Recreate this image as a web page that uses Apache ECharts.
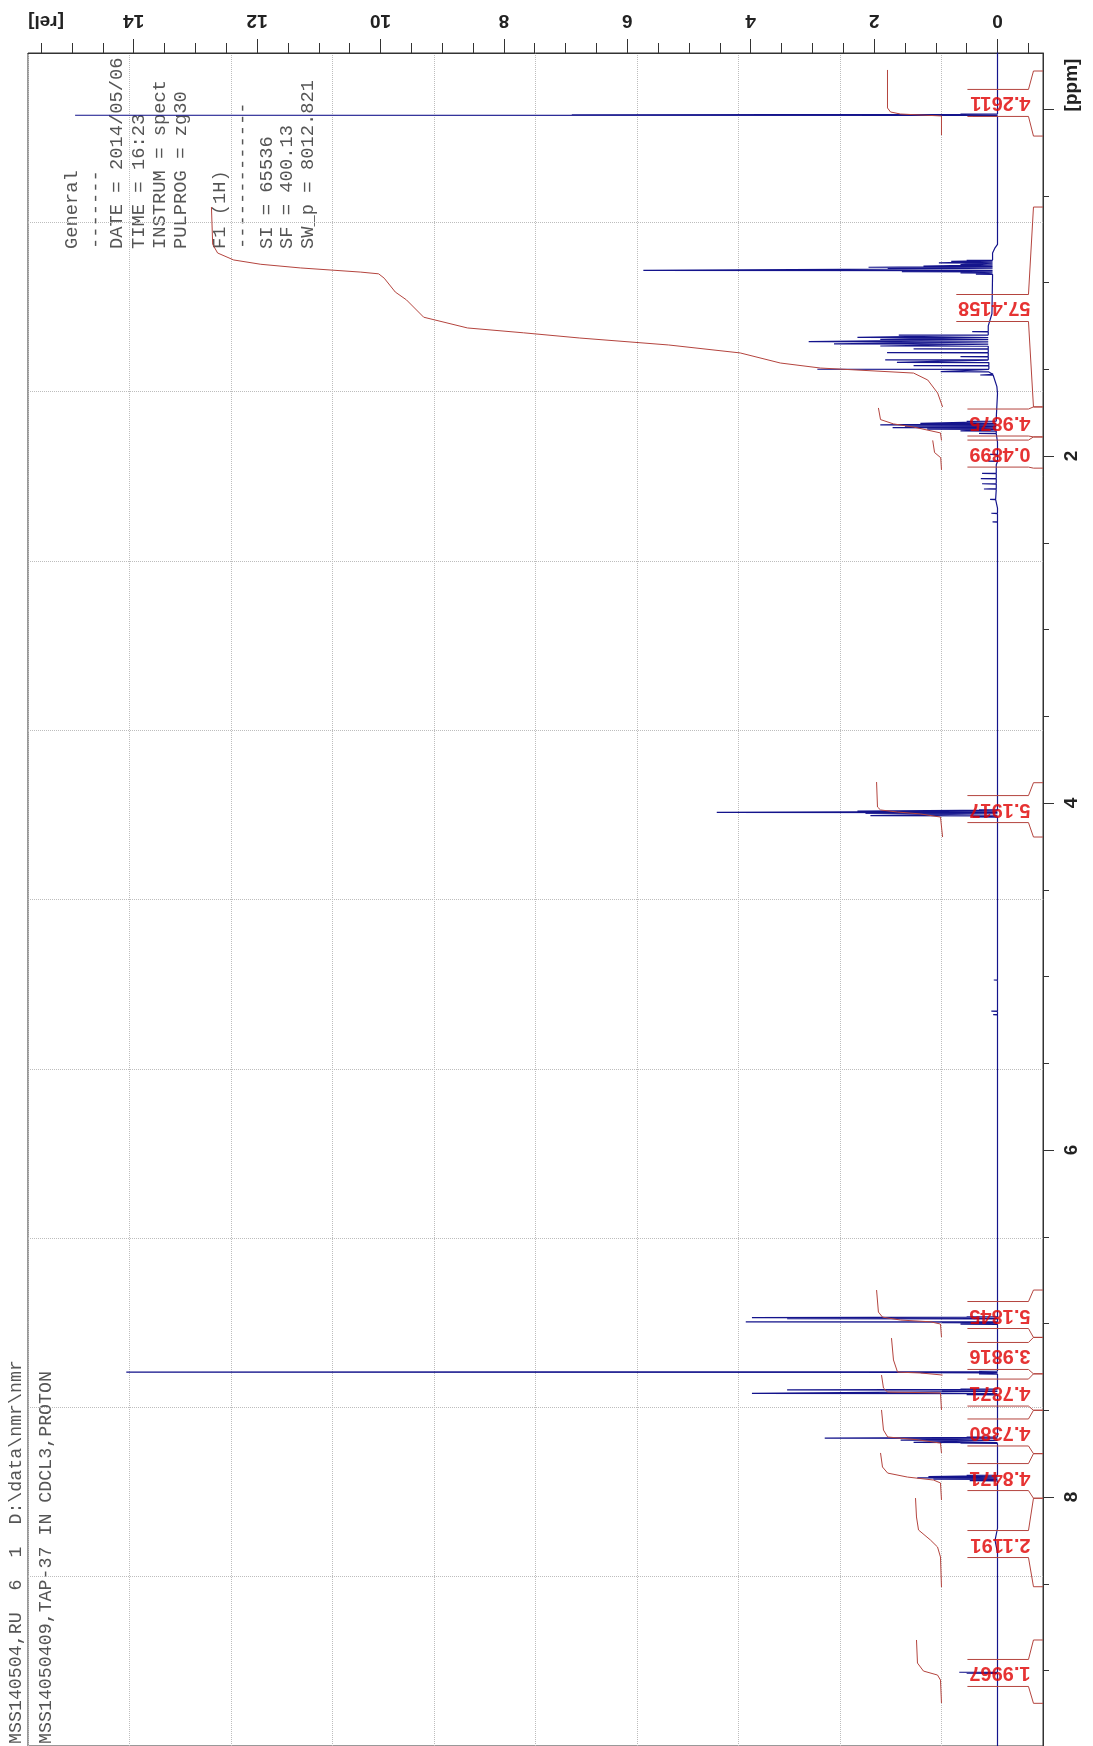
<!DOCTYPE html>
<html><head><meta charset="utf-8">
<script src="https://cdn.jsdelivr.net/npm/echarts@6/dist/echarts.min.js"></script>
<style>html,body{margin:0;padding:0;background:#fff}#c{width:1093px;height:1746px}</style>
</head><body><div id="c"></div>
<script>
// ---------------- DATA ----------------
// intensity axis [rel] (horizontal, top)
const relTicks = [0, 2, 4, 6, 8, 10, 12, 14];
const relMinorTicks = [-0.5, 0.5, 1, 1.5, 2.5, 3, 3.5, 4.5, 5, 5.5, 6.5, 7, 7.5, 8.5, 9, 9.5, 10.5, 11, 11.5, 12.5, 13, 13.5, 14.5, 15, 15.5];
// chemical shift axis [ppm] (vertical, right)
const ppmTicks = [0, 2, 4, 6, 8];
const ppmTickLabels = [2, 4, 6, 8];
const ppmMinorTicks = [0.5, 1, 1.5, 2.5, 3, 3.5, 4.5, 5, 5.5, 6.5, 7, 7.5, 8.5, 9];

// spectrum baseline points [ppm, rel]
const baselinePts = [[-0.33, 0], [0.78, 0], [0.80, 0.04], [0.83, 0.08], [0.96, 0.11], [1.18, 0.09], [1.25, 0.15], [1.45, 0.14], [1.53, 0.07], [1.60, 0.01], [1.64, 0], [1.78, 0.02], [1.88, 0.02], [1.92, 0], [2.05, 0.02], [2.20, 0.03], [2.30, 0], [8.18, 0], [8.25, 0.04], [8.32, 0], [9.44, 0]];
// spectrum peaks [ppm, rel]
const peaks = [
  [0.030, 0.6], [0.033, 6.9], [0.036, 14.95], [0.040, 0.4],
  [0.872, 0.5], [0.878, 0.75], [0.887, 0.95], [0.897, 0.6], [0.905, 1.2], [0.912, 2.09], [0.918, 1.78], [0.930, 5.74], [0.937, 1.55], [0.945, 0.6], [0.952, 0.35],
  [1.283, 0.41], [1.303, 1.6], [1.316, 2.27], [1.328, 1.9], [1.341, 3.06], [1.354, 2.65], [1.366, 1.9], [1.383, 1.36], [1.404, 1.79], [1.427, 0.6], [1.446, 1.82], [1.460, 1.63], [1.479, 1.36], [1.500, 2.92], [1.514, 0.92], [1.533, 0.28],
  [1.800, 0.5], [1.812, 1.25], [1.820, 1.9], [1.828, 1.5], [1.836, 1.7], [1.845, 1.14], [1.855, 0.6], [1.870, 0.3],
  [1.990, 0.12], [2.030, 0.15], [2.100, 0.25], [2.130, 0.27], [2.160, 0.25], [2.190, 0.22], [2.250, 0.12], [2.330, 0.1], [2.380, 0.08],
  [4.040, 0.3], [4.046, 2.27], [4.054, 4.55], [4.060, 2.14], [4.073, 2.06], [4.080, 0.4],
  [5.020, 0.06], [5.200, 0.1], [5.220, 0.07],
  [6.962, 0.5], [6.966, 3.98], [6.972, 3.41], [6.990, 4.08], [6.995, 0.9], [7.003, 0.6],
  [7.275, 0.3], [7.280, 14.12], [7.283, 1.25], [7.290, 0.3],
  [7.378, 0.6], [7.383, 3.41], [7.390, 0.9], [7.403, 3.98], [7.410, 0.5],
  [7.655, 0.5], [7.660, 2.8], [7.672, 1.57], [7.685, 1.36], [7.690, 0.6],
  [7.875, 0.5], [7.882, 1.12], [7.890, 1.3], [7.897, 1.04], [7.905, 0.45],
  [9.010, 0.62], [9.015, 0.5]
];

// integration regions
const integralValues = ['4.2611', '57.4158', '4.9875', '0.4899', '5.1917', '5.1845', '3.9816', '4.7871', '4.7380', '4.8471', '2.1191', '1.9967'];
const regionStart = [-0.219, 0.565, 1.717, 1.890, 3.883, 6.807, 7.080, 7.290, 7.500, 7.750, 8.007, 8.824];
const regionEnd   = [0.156, 1.717, 1.890, 2.070, 4.196, 7.080, 7.290, 7.500, 7.750, 8.007, 8.517, 9.189];
const labelPpm    = [-0.035, 1.147, 1.807, 1.986, 4.035, 6.951, 7.187, 7.398, 7.628, 7.885, 8.271, 9.014];

// integral curves [rel, ppm]
const int1 = [[1.783, -0.225], [1.783, -0.006], [1.734, 0.017], [1.572, 0.029], [0.908, 0.040], [0.908, 0.150]];
const int2 = [[12.74, 0.565], [12.72, 0.78], [12.64, 0.83], [12.38, 0.87], [11.94, 0.895], [11.3, 0.916], [10.32, 0.94], [10.03, 0.95], [9.94, 0.975], [9.76, 1.055], [9.58, 1.10], [9.3, 1.2], [8.59, 1.262], [7.68, 1.29], [6.77, 1.32], [5.33, 1.36], [4.17, 1.406], [3.52, 1.464], [2.87, 1.493], [1.36, 1.522], [1.13, 1.562], [0.97, 1.637], [0.89, 1.717]];
const int3 = [[1.93, 1.723], [1.896, 1.79], [1.686, 1.815], [1.36, 1.833], [0.924, 1.867], [0.908, 1.91]];
const int4 = [[1.05, 1.91], [1.02, 1.98], [0.92, 2.01], [0.908, 2.08]];
const int5 = [[1.96, 3.879], [1.945, 4.023], [1.896, 4.04], [1.62, 4.052], [1.248, 4.063], [0.924, 4.081], [0.89, 4.196]];
const int6 = [[1.96, 6.807], [1.93, 6.934], [1.864, 6.963], [1.572, 6.98], [1.086, 6.99], [0.924, 7.003], [0.908, 7.078]];
const int7 = [[1.718, 7.084], [1.686, 7.21], [1.62, 7.28], [1.248, 7.285], [0.89, 7.297]];
const int8 = [[1.88, 7.297], [1.848, 7.372], [1.78, 7.395], [0.924, 7.40], [0.908, 7.498]];
const int9 = [[1.88, 7.498], [1.848, 7.614], [1.78, 7.654], [1.297, 7.67], [0.924, 7.689], [0.908, 7.746]];
const int10 = [[1.896, 7.746], [1.864, 7.827], [1.78, 7.862], [1.459, 7.885], [1.037, 7.902], [0.924, 7.919], [0.908, 8.017]];
const int11 = [[1.329, 8.006], [1.313, 8.115], [1.28, 8.19], [1.086, 8.248], [0.972, 8.288], [0.924, 8.346], [0.908, 8.519]];
const int12 = [[1.313, 8.824], [1.297, 8.957], [1.2, 9.003], [0.972, 9.026], [0.924, 9.055], [0.908, 9.187]];

// text blocks
const titleLines = ['MSS140504,RU  6  1  D:\\data\\nmr\\nmr', 'MSS14050409,TAP-37 IN CDCL3,PROTON'];
const paramLines = ['General', '-------', 'DATE = 2014/05/06', 'TIME = 16:23', 'INSTRUM = spect', 'PULPROG = zg30', 'F1 (1H)', '-------------', 'SI = 65536', 'SF = 400.13', 'SW_p = 8012.821'];

// ---------------- LAYOUT ----------------
const PX_PER_REL = 61.7, PX_PER_PPM = 173.5;
const relMin = -(1043 - 997.5) / PX_PER_REL, relMax = (997.5 - 28) / PX_PER_REL;
const ppmMin = -0.3228, ppmMax = 9.435;
const A_REL = -0.583, B_REL = -0.502, TEXT_REL = -0.535;
const BOX_HALF = 13.5 / PX_PER_PPM;
const paramCols = [72, 96, 117, 139, 160, 181, 220, 243, 267, 287, 308];
const titleCols = [16, 46];
const MONO = '"Liberation Mono", "DejaVu Sans Mono", monospace';
const SANS = '"Liberation Sans", Arial, sans-serif';
const RED_LINE = '#b4443e', RED_TEXT = '#e00000', BLUE = '#14148c';
const LABEL_FS = 20, DIGIT_W = 11.1, DOT_W = 5.6;

function buildTrace() {
  const pts = baselinePts.map(p => ({ p: p[0], r: p[1] }));
  peaks.forEach(([p, h]) => {
    let base = 0;
    for (const b of baselinePts) { if (b[0] <= p) base = b[1]; }
    pts.push({ p: p - 0.0015, r: base }, { p: p, r: h }, { p: p + 0.0015, r: base });
  });
  pts.sort((a, b) => a.p - b.p);
  return pts.map(o => [o.r, o.p]);
}
function textWidthRel(s) {
  let w = 0;
  for (const ch of s) w += (ch === '.') ? DOT_W : DIGIT_W;
  return (w + 2) / PX_PER_REL;
}
const brackets = [];
integralValues.forEach((v, i) => {
  const left = TEXT_REL + textWidthRel(v);
  const top = labelPpm[i] - BOX_HALF, bot = labelPpm[i] + BOX_HALF;
  brackets.push({ coords: [[relMin, regionStart[i]], [A_REL, regionStart[i]], [B_REL, top], [left, top]] });
  brackets.push({ coords: [[left, bot], [B_REL, bot], [A_REL, regionEnd[i]], [relMin, regionEnd[i]]] });
});
const integralCurves = [int1, int2, int3, int4, int5, int6, int7, int8, int9, int10, int11, int12];

const graphics = [];
graphics.push({ type: 'text', x: 46, y: 21, rotation: Math.PI, style: { text: '[rel]', font: 'bold 19px ' + SANS, fill: '#222', align: 'center', verticalAlign: 'middle', textAlign: 'center', textVerticalAlign: 'middle' } });
graphics.push({ type: 'text', x: 1072, y: 85, rotation: Math.PI / 2, style: { text: '[ppm]', font: 'bold 19px ' + SANS, fill: '#222', align: 'center', verticalAlign: 'middle', textAlign: 'center', textVerticalAlign: 'middle' } });
paramLines.forEach((t, i) => graphics.push({ type: 'text', x: paramCols[i], y: 249, rotation: Math.PI / 2, style: { text: t, font: '18.8px ' + MONO, fill: '#555', align: 'left', verticalAlign: 'middle', textAlign: 'left', textVerticalAlign: 'middle' } }));
titleLines.forEach((t, i) => graphics.push({ type: 'text', x: titleCols[i], y: 1744, rotation: Math.PI / 2, style: { text: t, font: '18.3px ' + MONO, fill: '#555', align: 'left', verticalAlign: 'middle', textAlign: 'left', textVerticalAlign: 'middle' } }));

const chart = echarts.init(document.getElementById('c'), null, { renderer: 'canvas' });
const tickStyle = { color: '#333', width: 1 };
const dotted = { type: 'dotted', color: '#bdbdbd', width: 1 };
chart.setOption({
  animation: false,
  backgroundColor: '#fff',
  grid: { left: 28, right: 50, top: 53, bottom: 0, show: true, borderColor: '#333', borderWidth: 1, backgroundColor: 'transparent' },
  xAxis: [
    { type: 'value', position: 'top', inverse: true, min: relMin, max: relMax,
      axisLine: { show: true, onZero: false, lineStyle: tickStyle },
      axisTick: { show: true, customValues: relTicks, length: 14, lineStyle: tickStyle },
      axisLabel: { show: true, customValues: relTicks, rotate: 180, margin: 23, color: '#222', fontSize: 19, fontWeight: 'bold', fontFamily: SANS },
      splitLine: { show: false } },
    { type: 'value', position: 'top', inverse: true, min: relMin, max: relMax,
      axisLine: { show: false, onZero: false },
      axisTick: { show: true, customValues: relMinorTicks, length: 10, lineStyle: tickStyle },
      axisLabel: { show: false }, splitLine: { show: false } },
    { type: 'value', position: 'bottom', min: 0, max: 10, interval: 1,
      axisLine: { show: false, onZero: false }, axisTick: { show: false }, axisLabel: { show: false },
      splitLine: { show: true, lineStyle: dotted } }
  ],
  yAxis: [
    { type: 'value', position: 'right', inverse: true, min: ppmMin, max: ppmMax,
      axisLine: { show: true, onZero: false, lineStyle: tickStyle },
      axisTick: { show: true, customValues: ppmTicks, length: 11, lineStyle: tickStyle },
      axisLabel: { show: true, customValues: ppmTickLabels, rotate: 90, margin: 19, color: '#222', fontSize: 19, fontWeight: 'bold', fontFamily: SANS },
      splitLine: { show: false } },
    { type: 'value', position: 'right', inverse: true, min: ppmMin, max: ppmMax,
      axisLine: { show: false, onZero: false },
      axisTick: { show: true, customValues: ppmMinorTicks, length: 6, lineStyle: tickStyle },
      axisLabel: { show: false }, splitLine: { show: false } },
    { type: 'value', position: 'left', min: 0, max: 10, interval: 1,
      axisLine: { show: false, onZero: false }, axisTick: { show: false }, axisLabel: { show: false },
      splitLine: { show: true, lineStyle: dotted } }
  ],
  series: [
    { type: 'line', name: 'spectrum', xAxisIndex: 0, yAxisIndex: 0, data: buildTrace(), showSymbol: false, symbol: 'none',
      lineStyle: { color: BLUE, width: 1.2 }, z: 3, silent: true, clip: true },
    { type: 'lines', name: 'integrals', coordinateSystem: 'cartesian2d', xAxisIndex: 0, yAxisIndex: 0, polyline: true,
      data: integralCurves.map(c => ({ coords: c })), lineStyle: { color: RED_LINE, width: 1, opacity: 1 }, z: 4, silent: true },
    { type: 'lines', name: 'brackets', coordinateSystem: 'cartesian2d', xAxisIndex: 0, yAxisIndex: 0, polyline: true,
      data: brackets, lineStyle: { color: RED_LINE, width: 1, opacity: 1 }, z: 4, silent: true },
    { type: 'scatter', name: 'labels', xAxisIndex: 0, yAxisIndex: 0, symbolSize: 0, z: 6, silent: true,
      data: integralValues.map((v, i) => ({ name: v, value: [TEXT_REL, labelPpm[i]] })),
      label: { show: true, formatter: '{b}', position: 'inside', align: 'left', verticalAlign: 'middle', rotate: 180,
        color: RED_TEXT, fontSize: LABEL_FS, fontWeight: 'bold', fontFamily: SANS } }
  ],
  graphic: graphics
});
</script>
</body></html>
